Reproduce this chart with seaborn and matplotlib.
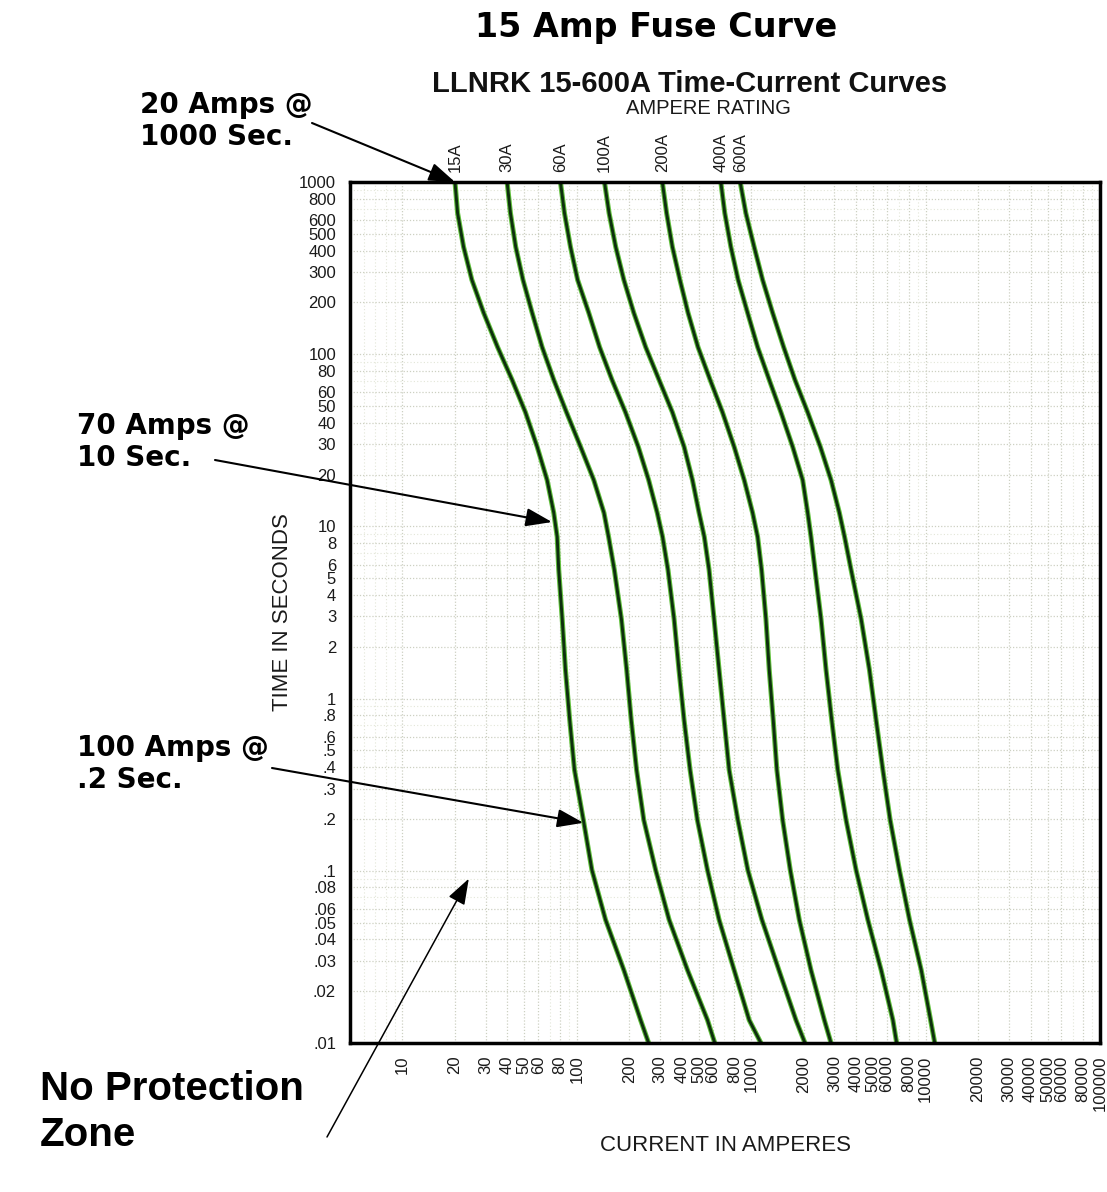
import numpy as np
import pandas as pd
import matplotlib
matplotlib.use("Agg")
import matplotlib.pyplot as plt
import seaborn as sns
from matplotlib.ticker import FixedLocator, NullFormatter

# ==============================
# DATA
# ==============================
times = [1000, 660, 420, 270, 174, 110, 71, 46, 29, 18.6, 12, 8.7,
         5.6, 2.9, 1.47, 0.75, 0.385, 0.197, 0.101, 0.052, 0.0265, 0.0136, 0.01]

amps_15 = [20, 20.7, 22.4, 25.0, 29.2, 35.1, 42.5, 50.7, 59.2, 67.5, 73.7, 77.1,
           78.7, 82.4, 86.0, 91.0, 96.9, 109, 122, 146, 186, 232, 258]
amps_30 = [39.8, 41.6, 44.6, 49.1, 55.4, 63.2, 73.7, 87.2, 105, 125, 143, 152,
           164, 180, 193, 205, 220, 242, 283, 338, 431, 561, 618]
amps_60 = [80.5, 84.9, 91.9, 101, 117, 135, 159, 190, 225, 258, 289, 310,
           333, 361, 385, 412, 446, 491, 561, 654, 798, 973, 1136]
amps_100 = [144, 153, 167, 186, 212, 248, 296, 353, 412, 460, 502, 538,
            573, 612, 654, 699, 747, 838, 956, 1151, 1441, 1804, 2033]
amps_200 = [309, 327, 353, 390, 434, 495, 581, 684, 798, 911, 1018, 1088,
            1146, 1214, 1268, 1337, 1403, 1514, 1674, 1886, 2201, 2625, 2868]
amps_400 = [669, 705, 764, 841, 953, 1088, 1268, 1480, 1728, 1972, 2107, 2201,
            2321, 2513, 2685, 2894, 3135, 3498, 3993, 4662, 5559, 6490, 6824]
amps_600 = [864, 931, 1039, 1162, 1326, 1534, 1781, 2107, 2490, 2868, 3202, 3429,
            3737, 4266, 4761, 5201, 5686, 6262, 7078, 8083, 9439, 10675, 11282]

ratings = ['15A', '30A', '60A', '100A', '200A', '400A', '600A']
curves = [amps_15, amps_30, amps_60, amps_100, amps_200, amps_400, amps_600]

x_ticks = [10, 20, 30, 40, 50, 60, 80, 100, 200, 300, 400, 500, 600, 800,
           1000, 2000, 3000, 4000, 5000, 6000, 8000, 10000,
           20000, 30000, 40000, 50000, 60000, 80000, 100000]
y_ticks = [1000, 800, 600, 500, 400, 300, 200, 100, 80, 60, 50, 40, 30, 20,
           10, 8, 6, 5, 4, 3, 2, 1, .8, .6, .5, .4, .3, .2, .1,
           .08, .06, .05, .04, .03, .02, .01]
y_labels = ['1000', '800', '600', '500', '400', '300', '200', '100', '80', '60',
            '50', '40', '30', '20', '10', '8', '6', '5', '4', '3', '2', '1',
            '.8', '.6', '.5', '.4', '.3', '.2', '.1', '.08', '.06', '.05',
            '.04', '.03', '.02', '.01']

# callouts: text, point on curve (amps, seconds)
callout_text = ['20 Amps @\n1000 Sec.', '70 Amps @\n10 Sec.', '100 Amps @\n.2 Sec.']
callout_amps = [20, 72, 109]
callout_secs = [1000, 10.6, 0.19]

zone_amps = 24
zone_secs = 0.09

# long form table for seaborn
rows = []
for name, amps in zip(ratings, curves):
    for a, t in zip(amps, times):
        rows.append({'rating': name, 'current': a, 'time': t})
df = pd.DataFrame(rows)

# ==============================
# FIGURE
# ==============================
sns.set_style('white')
plt.rcParams['font.family'] = ['Liberation Sans', 'DejaVu Sans']
plt.rcParams['text.color'] = 'black'
plt.rcParams['axes.labelcolor'] = '#1a1a1a'
plt.rcParams['xtick.color'] = '#1a1a1a'
plt.rcParams['ytick.color'] = '#1a1a1a'

W, H = 1107, 1192
fig = plt.figure(figsize=(W / 100, H / 100), dpi=100)
ax = fig.add_axes([350 / W, 1 - 1043 / H, 750 / W, 861 / H])

ax.set_xscale('log')
ax.set_yscale('log')
ax.set_xlim(5, 100000)
ax.set_ylim(0.01, 1000)

# paper grid
minor = []
for d in [1, 10, 100, 1000, 10000]:
    minor += [d * k for k in range(1, 10)]
ax.xaxis.set_minor_locator(FixedLocator(minor))
yminor = []
for d in [0.01, 0.1, 1, 10, 100]:
    yminor += [d * k for k in range(1, 10)]
ax.yaxis.set_minor_locator(FixedLocator(yminor))
ax.xaxis.set_minor_formatter(NullFormatter())
ax.yaxis.set_minor_formatter(NullFormatter())
ax.grid(True, which='minor', color='#e3e6d8', linestyle=(0, (1, 2)), linewidth=0.8)
ax.grid(True, which='major', color='#cdd0c2', linestyle=(0, (1, 1.5)), linewidth=0.9)

ax.set_xticks(x_ticks)
ax.set_xticklabels([str(v) for v in x_ticks], rotation=90, fontsize=12)
ax.set_yticks(y_ticks)
ax.set_yticklabels(y_labels, fontsize=12)
ax.tick_params(which='both', length=0, pad=9)
ax.tick_params(axis='y', pad=10)

# curves: light green edge + dark core
sns.lineplot(data=df, x='current', y='time', units='rating', estimator=None,
             sort=False, color='#5fbf3a', linewidth=3.6, legend=False, ax=ax)
sns.lineplot(data=df, x='current', y='time', units='rating', estimator=None,
             sort=False, color='#0e2f0e', linewidth=2.1, legend=False, ax=ax)

for sp in ax.spines.values():
    sp.set_linewidth(2.5)
    sp.set_color('black')

ax.set_xlabel('CURRENT IN AMPERES', fontsize=16)
ax.xaxis.set_label_coords(0.5, -0.107)
ax.xaxis.label.set_va('top')
ax.set_ylabel('TIME IN SECONDS', fontsize=16)
ax.yaxis.set_label_coords(-0.076, 0.5)

# ampere rating labels above each curve
for name, amps in zip(ratings, curves):
    ax.text(amps[0], 1.012, name, transform=ax.get_xaxis_transform(),
            rotation=90, ha='center', va='bottom', fontsize=12, color='#1a1a1a')

# titles
fig.text(656 / W, 1 - 27 / H, '15 Amp Fuse Curve', ha='center', va='center',
         fontsize=24, fontweight='bold', family='DejaVu Sans')
fig.text(690 / W, 1 - 84 / H, 'LLNRK 15-600A Time-Current Curves', ha='center',
         va='center', fontsize=21, fontweight='bold', color='#111111')
fig.text(708 / W, 1 - 108 / H, 'AMPERE RATING', ha='center', va='center',
         fontsize=14.5, color='#1a1a1a')

# callouts
head = '-|>,head_length=0.8,head_width=0.28'
text_pos = [(140, 91), (77, 412), (77, 734)]
tail_pos = [(312, 123), (215, 460), (272, 768)]
for txt, (tx, ty), (ax_, ay_), a, s in zip(callout_text, text_pos, tail_pos,
                                          callout_amps, callout_secs):
    fig.text(tx / W, 1 - ty / H, txt, ha='left', va='top', fontsize=20,
             fontweight='bold', family='DejaVu Sans')
    ax.annotate('', xy=(a, s), xycoords='data',
                xytext=(ax_ / W, 1 - ay_ / H), textcoords='figure fraction',
                arrowprops=dict(arrowstyle=head, color='black', lw=1.5,
                                mutation_scale=20, shrinkA=0, shrinkB=0),
                annotation_clip=False)

fig.text(40 / W, 1 - 1070 / H, 'No Protection\nZone', ha='left', va='top',
         fontsize=29, fontweight='bold', linespacing=1.25)
ax.annotate('', xy=(zone_amps, zone_secs), xycoords='data',
            xytext=(327 / W, 1 - 1137 / H), textcoords='figure fraction',
            arrowprops=dict(arrowstyle=head, color='black', lw=1.1,
                            mutation_scale=20, shrinkA=0, shrinkB=0),
            annotation_clip=False)

fig.savefig('out.png', dpi=100, facecolor='white')
